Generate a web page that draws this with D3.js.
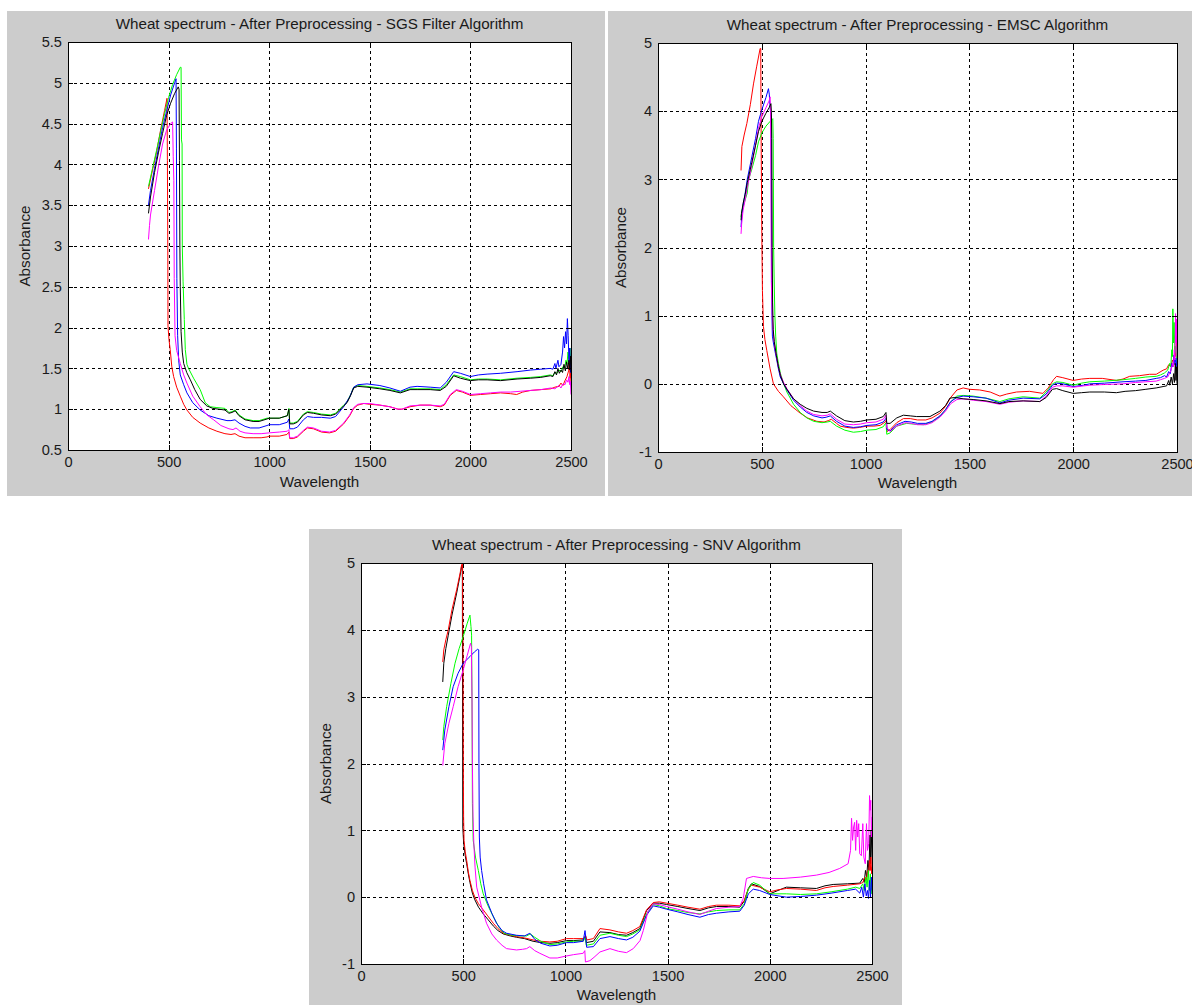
<!DOCTYPE html>
<html>
<head>
<meta charset="utf-8">
<script src="https://cdn.jsdelivr.net/npm/d3@7"></script>
<style>
  body { margin: 0; background: #fff; }
  svg { display: block; font-family: "Liberation Sans", Arial, sans-serif; }
</style>
</head>
<body>
<div id="chart"></div>
<script>
// Wavelength ticks shared by all three plots
const xTicks = [0, 500, 1000, 1500, 2000, 2500];
const sgsYTicks = [0.5, 1, 1.5, 2, 2.5, 3, 3.5, 4, 4.5, 5, 5.5];
const emscYTicks = [-1, 0, 1, 2, 3, 4, 5];
const snvYTicks = [-1, 0, 1, 2, 3, 4, 5];

// --- SGS filter spectra: [wavelength, absorbance] ---
const sgsRed = [[400,3.70],[420,3.93],[440,4.15],[460,4.42],[480,4.66],[492,4.81],[494,4.05],[496,3.0],[497,2.02],[502,1.85],[508,1.73],[516,1.52],[525,1.40],[540,1.27],[558,1.16],[575,1.06],[591,0.99],[620,0.90],[657,0.83],[700,0.77],[740,0.73],[780,0.70],[810,0.69],[830,0.70],[850,0.67],[880,0.65],[920,0.65],[960,0.65],[989,0.66],[1000,0.67],[1050,0.67],[1088,0.69],[1098,0.72],[1102,0.64],[1120,0.64],[1140,0.66],[1170,0.73],[1190,0.77],[1220,0.76],[1260,0.72],[1300,0.71],[1330,0.73],[1370,0.82],[1400,0.92],[1420,1.01],[1440,1.05],[1470,1.07],[1500,1.06],[1550,1.05],[1600,1.03],[1640,1.0],[1660,1.0],[1700,1.03],[1750,1.05],[1800,1.05],[1850,1.03],[1870,1.05],[1900,1.17],[1930,1.23],[1960,1.21],[2000,1.17],[2050,1.18],[2100,1.19],[2150,1.2],[2200,1.19],[2230,1.18],[2260,1.21],[2300,1.23],[2350,1.24],[2400,1.25],[2420,1.27],[2440,1.28],[2450,1.32],[2460,1.29],[2470,1.35],[2480,1.40],[2488,1.47],[2492,1.63],[2495,1.38],[2498,1.45],[2500,1.3]];
const sgsGreen = [[400,3.73],[420,3.95],[440,4.17],[460,4.4],[480,4.62],[500,4.82],[520,4.98],[540,5.1],[558,5.19],[562,5.19],[564,4.3],[567,4.25],[568,3.0],[572,2.56],[578,2.1],[583,1.73],[591,1.55],[599,1.50],[624,1.38],[657,1.24],[682,1.08],[707,1.03],[740,1.02],[780,1.01],[800,0.96],[815,0.97],[831,0.99],[850,0.93],[880,0.88],[920,0.86],[950,0.86],[989,0.89],[1000,0.89],[1050,0.89],[1090,0.92],[1098,1.01],[1102,0.83],[1120,0.83],[1140,0.85],[1170,0.94],[1190,0.97],[1220,0.96],[1260,0.94],[1304,0.93],[1330,0.95],[1370,1.05],[1387,1.09],[1405,1.18],[1420,1.27],[1440,1.29],[1486,1.28],[1550,1.26],[1600,1.24],[1652,1.21],[1700,1.25],[1735,1.25],[1800,1.25],[1850,1.24],[1880,1.3],[1917,1.42],[1950,1.40],[2000,1.36],[2040,1.37],[2083,1.37],[2150,1.36],[2232,1.38],[2300,1.39],[2350,1.40],[2397,1.42],[2410,1.41],[2420,1.45],[2430,1.44],[2440,1.48],[2450,1.46],[2460,1.52],[2468,1.5],[2475,1.6],[2480,1.55],[2485,1.7],[2490,1.62],[2495,1.75],[2500,1.55]];
const sgsBlue = [[400,3.50],[410,3.68],[430,3.95],[450,4.2],[470,4.45],[490,4.65],[510,4.85],[530,5.0],[537,5.05],[539,4.2],[541,2.6],[545,1.9],[550,1.6],[558,1.42],[575,1.3],[591,1.2],[620,1.08],[657,0.99],[700,0.92],[740,0.89],[790,0.86],[810,0.86],[830,0.87],[850,0.83],[880,0.79],[906,0.77],[950,0.77],[989,0.80],[1000,0.81],[1050,0.81],[1090,0.84],[1098,0.88],[1102,0.76],[1120,0.76],[1140,0.78],[1170,0.87],[1190,0.91],[1220,0.9],[1260,0.9],[1304,0.89],[1330,0.91],[1370,1.03],[1400,1.15],[1420,1.27],[1440,1.30],[1486,1.31],[1550,1.29],[1600,1.26],[1652,1.22],[1700,1.27],[1735,1.28],[1800,1.27],[1850,1.26],[1880,1.33],[1917,1.46],[1950,1.44],[2000,1.40],[2040,1.42],[2083,1.43],[2150,1.44],[2232,1.46],[2300,1.48],[2350,1.49],[2397,1.50],[2410,1.49],[2420,1.56],[2425,1.5],[2435,1.6],[2440,1.52],[2450,1.55],[2458,1.7],[2463,1.89],[2468,1.75],[2473,1.95],[2478,1.8],[2482,2.11],[2486,1.9],[2490,1.58],[2494,1.75],[2498,1.45],[2500,1.5]];
const sgsMagenta = [[400,3.08],[405,3.25],[410,3.38],[430,3.68],[450,3.98],[470,4.25],[490,4.42],[510,4.5],[520,4.52],[523,4.1],[526,3.8],[528,2.6],[532,1.9],[540,1.72],[558,1.56],[575,1.42],[591,1.32],[620,1.16],[657,1.03],[690,0.93],[724,0.87],[760,0.80],[800,0.76],[820,0.75],[835,0.77],[855,0.73],[880,0.71],[920,0.70],[960,0.70],[1000,0.71],[1050,0.72],[1090,0.73],[1098,0.75],[1102,0.65],[1120,0.65],[1140,0.67],[1170,0.74],[1190,0.78],[1220,0.77],[1260,0.73],[1300,0.72],[1330,0.74],[1370,0.83],[1400,0.93],[1420,1.02],[1440,1.06],[1470,1.07],[1500,1.07],[1550,1.05],[1600,1.03],[1640,1.0],[1660,1.0],[1700,1.04],[1750,1.05],[1800,1.05],[1850,1.04],[1870,1.06],[1900,1.18],[1930,1.24],[1960,1.22],[2000,1.18],[2050,1.19],[2100,1.2],[2150,1.21],[2200,1.21],[2250,1.22],[2300,1.23],[2350,1.24],[2400,1.26],[2420,1.25],[2440,1.29],[2450,1.26],[2460,1.31],[2470,1.3],[2478,1.36],[2485,1.33],[2490,1.4],[2494,1.3],[2497,1.34],[2500,1.18]];
const sgsBlack = [[400,3.40],[410,3.6],[430,3.9],[450,4.15],[470,4.38],[490,4.6],[510,4.75],[530,4.87],[548,4.95],[552,4.92],[554,4.05],[556,3.0],[558,2.5],[562,1.95],[568,1.7],[575,1.56],[590,1.45],[608,1.36],[630,1.24],[657,1.12],[690,1.04],[720,1.01],[780,0.99],[800,0.95],[815,0.96],[831,0.98],[850,0.92],[880,0.87],[920,0.85],[950,0.85],[989,0.88],[1000,0.89],[1050,0.89],[1090,0.92],[1098,1.0],[1102,0.82],[1120,0.82],[1140,0.84],[1170,0.93],[1190,0.96],[1220,0.95],[1260,0.93],[1304,0.92],[1330,0.94],[1370,1.04],[1387,1.08],[1405,1.17],[1420,1.26],[1440,1.28],[1486,1.27],[1550,1.25],[1600,1.23],[1652,1.20],[1700,1.24],[1735,1.24],[1800,1.24],[1850,1.23],[1880,1.28],[1917,1.41],[1950,1.38],[2000,1.35],[2040,1.36],[2083,1.36],[2150,1.35],[2232,1.37],[2300,1.38],[2350,1.39],[2397,1.41],[2410,1.40],[2420,1.46],[2428,1.42],[2435,1.5],[2442,1.44],[2450,1.48],[2458,1.45],[2465,1.55],[2472,1.47],[2478,1.58],[2484,1.5],[2490,1.6],[2494,1.48],[2498,1.65],[2500,1.45]];

// --- EMSC spectra ---
const emscRed = [[400,3.13],[404,3.48],[415,3.65],[428,3.82],[445,4.1],[460,4.40],[475,4.65],[492,4.92],[495,4.92],[497,3.5],[500,2.2],[503,1.37],[508,0.84],[515,0.65],[524,0.49],[540,0.22],[556,0.0],[580,-0.11],[604,-0.19],[640,-0.32],[685,-0.43],[720,-0.5],[765,-0.55],[800,-0.56],[820,-0.54],[835,-0.52],[860,-0.58],[877,-0.62],[910,-0.64],[941,-0.65],[970,-0.64],[1006,-0.62],[1040,-0.62],[1070,-0.61],[1094,-0.56],[1100,-0.53],[1103,-0.7],[1118,-0.67],[1150,-0.57],[1182,-0.51],[1215,-0.51],[1250,-0.53],[1290,-0.53],[1320,-0.5],[1358,-0.43],[1385,-0.33],[1410,-0.2],[1440,-0.09],[1470,-0.06],[1500,-0.08],[1550,-0.09],[1600,-0.12],[1647,-0.18],[1680,-0.15],[1727,-0.12],[1790,-0.11],[1854,-0.14],[1880,-0.06],[1905,0.06],[1920,0.11],[1950,0.09],[2000,0.05],[2040,0.07],[2080,0.08],[2140,0.08],[2208,0.05],[2240,0.07],[2272,0.11],[2320,0.12],[2368,0.14],[2400,0.14],[2433,0.2],[2450,0.22],[2460,0.28],[2470,0.25],[2478,0.35],[2485,0.3],[2490,0.55],[2494,0.4],[2498,0.7],[2500,0.5]];
const emscGreen = [[400,2.45],[405,2.55],[415,2.65],[430,2.8],[436,2.99],[452,3.15],[470,3.35],[484,3.55],[500,3.68],[520,3.78],[540,3.85],[553,3.89],[555,3.6],[557,2.0],[560,1.45],[563,1.0],[567,0.7],[572,0.45],[580,0.3],[590,0.15],[605,0.0],[621,-0.12],[653,-0.3],[685,-0.42],[717,-0.5],[750,-0.55],[790,-0.57],[815,-0.56],[830,-0.55],[860,-0.62],[900,-0.68],[941,-0.71],[975,-0.7],[1006,-0.68],[1050,-0.67],[1085,-0.63],[1098,-0.57],[1102,-0.74],[1118,-0.72],[1150,-0.62],[1198,-0.58],[1230,-0.59],[1278,-0.6],[1320,-0.56],[1358,-0.48],[1385,-0.38],[1406,-0.28],[1438,-0.18],[1470,-0.17],[1518,-0.18],[1580,-0.21],[1647,-0.26],[1690,-0.22],[1759,-0.19],[1839,-0.21],[1870,-0.12],[1900,0.0],[1920,0.03],[1950,0.02],[2000,-0.02],[2040,0.01],[2080,0.03],[2150,0.04],[2240,0.06],[2300,0.08],[2350,0.1],[2400,0.11],[2420,0.13],[2440,0.16],[2455,0.2],[2465,0.3],[2470,0.25],[2475,0.5],[2478,0.4],[2480,1.1],[2483,0.6],[2486,0.9],[2490,0.45],[2495,0.55],[2500,0.3]];
const emscBlue = [[400,2.30],[403,2.45],[410,2.62],[420,2.8],[430,3.0],[452,3.33],[470,3.6],[484,3.85],[500,4.02],[520,4.2],[532,4.33],[536,4.25],[540,4.05],[545,3.9],[547,2.0],[549,1.0],[551,0.7],[556,0.6],[564,0.47],[572,0.35],[580,0.22],[589,0.1],[605,0.0],[621,-0.09],[653,-0.24],[685,-0.34],[717,-0.42],[750,-0.47],[790,-0.5],[810,-0.49],[830,-0.47],[860,-0.55],[900,-0.62],[941,-0.64],[975,-0.63],[1006,-0.61],[1050,-0.6],[1085,-0.56],[1100,-0.50],[1103,-0.67],[1118,-0.69],[1150,-0.6],[1190,-0.55],[1220,-0.56],[1250,-0.58],[1290,-0.58],[1320,-0.55],[1358,-0.47],[1385,-0.38],[1410,-0.26],[1440,-0.2],[1470,-0.18],[1518,-0.19],[1580,-0.21],[1647,-0.28],[1690,-0.24],[1759,-0.21],[1839,-0.22],[1870,-0.15],[1900,-0.02],[1920,0.01],[1950,0.0],[2000,-0.04],[2050,-0.02],[2080,0.0],[2150,0.01],[2240,0.03],[2300,0.04],[2350,0.05],[2400,0.08],[2420,0.09],[2440,0.12],[2450,0.1],[2460,0.18],[2468,0.15],[2475,0.3],[2480,0.25],[2485,0.42],[2490,0.28],[2495,0.38],[2500,0.2]];
const emscMagenta = [[400,2.20],[403,2.35],[410,2.55],[420,2.7],[430,2.88],[452,3.2],[470,3.5],[484,3.75],[500,3.92],[520,4.05],[535,4.15],[540,4.21],[542,4.0],[544,3.0],[546,1.5],[550,1.0],[556,0.72],[564,0.52],[572,0.38],[580,0.25],[590,0.13],[605,0.02],[621,-0.07],[653,-0.22],[685,-0.32],[717,-0.40],[750,-0.45],[790,-0.47],[815,-0.46],[830,-0.44],[860,-0.52],[900,-0.59],[941,-0.6],[975,-0.59],[1006,-0.57],[1050,-0.56],[1085,-0.52],[1098,-0.46],[1102,-0.64],[1118,-0.7],[1150,-0.62],[1190,-0.57],[1220,-0.58],[1250,-0.6],[1290,-0.6],[1320,-0.57],[1358,-0.49],[1385,-0.4],[1410,-0.29],[1440,-0.23],[1470,-0.22],[1518,-0.24],[1580,-0.26],[1647,-0.3],[1690,-0.27],[1759,-0.25],[1839,-0.26],[1870,-0.18],[1900,-0.05],[1920,-0.03],[1950,-0.03],[2000,-0.05],[2050,-0.03],[2080,-0.02],[2150,-0.01],[2240,0.0],[2300,0.02],[2350,0.03],[2400,0.04],[2420,0.06],[2440,0.08],[2455,0.1],[2465,0.16],[2472,0.2],[2478,0.3],[2483,0.25],[2487,0.5],[2490,0.35],[2493,1.03],[2495,0.6],[2497,0.95],[2500,0.4]];
const emscBlack = [[400,2.40],[402,2.5],[410,2.65],[420,2.78],[430,2.95],[452,3.25],[470,3.5],[484,3.7],[500,3.85],[520,3.97],[535,4.05],[544,4.11],[546,4.0],[548,3.6],[550,2.0],[552,1.2],[555,0.8],[560,0.62],[570,0.42],[580,0.25],[590,0.12],[605,0.0],[621,-0.08],[653,-0.22],[685,-0.3],[717,-0.36],[750,-0.40],[790,-0.42],[815,-0.42],[830,-0.40],[860,-0.47],[900,-0.54],[941,-0.56],[975,-0.55],[1006,-0.53],[1050,-0.52],[1085,-0.48],[1098,-0.42],[1102,-0.58],[1118,-0.58],[1150,-0.5],[1182,-0.46],[1215,-0.47],[1246,-0.48],[1310,-0.48],[1358,-0.40],[1385,-0.32],[1406,-0.21],[1430,-0.2],[1470,-0.22],[1518,-0.23],[1580,-0.25],[1647,-0.29],[1690,-0.26],[1759,-0.25],[1839,-0.26],[1870,-0.2],[1900,-0.08],[1920,-0.07],[1950,-0.1],[2000,-0.14],[2040,-0.13],[2080,-0.12],[2150,-0.12],[2208,-0.13],[2250,-0.11],[2300,-0.1],[2350,-0.08],[2400,-0.06],[2433,-0.04],[2450,-0.03],[2460,0.05],[2465,-0.02],[2472,0.1],[2478,0.0],[2484,0.15],[2488,0.02],[2492,0.3],[2495,0.05],[2498,0.25],[2500,0.0]];

// --- SNV spectra ---
const snvRed = [[400,3.52],[405,3.7],[415,3.85],[427,4.0],[445,4.3],[468,4.6],[485,4.85],[492,4.97],[497,5.0],[498,4.0],[499,3.9],[500,2.5],[501,1.75],[502,1.2],[504,0.85],[510,0.68],[517,0.55],[525,0.38],[533,0.25],[545,0.1],[557,0.0],[575,-0.1],[598,-0.19],[620,-0.28],[647,-0.39],[670,-0.47],[696,-0.54],[730,-0.57],[761,-0.59],[800,-0.61],[842,-0.64],[880,-0.66],[924,-0.67],[960,-0.66],[1005,-0.62],[1040,-0.62],[1087,-0.62],[1100,-0.58],[1105,-0.64],[1137,-0.62],[1169,-0.47],[1218,-0.49],[1260,-0.52],[1299,-0.54],[1330,-0.5],[1364,-0.44],[1397,-0.19],[1430,-0.08],[1460,-0.07],[1495,-0.09],[1550,-0.12],[1600,-0.15],[1658,-0.18],[1700,-0.14],[1739,-0.12],[1800,-0.12],[1853,-0.13],[1875,-0.05],[1895,0.12],[1910,0.18],[1950,0.15],[2000,0.08],[2040,0.11],[2081,0.13],[2150,0.12],[2228,0.10],[2270,0.14],[2310,0.16],[2380,0.18],[2440,0.2],[2455,0.22],[2465,0.3],[2472,0.25],[2478,0.4],[2483,0.35],[2488,0.55],[2492,0.4],[2495,0.6],[2498,0.35],[2500,0.45]];
const snvGreen = [[400,2.35],[405,2.55],[419,2.85],[440,3.2],[460,3.5],[480,3.72],[500,3.9],[520,4.1],[533,4.22],[538,4.05],[541,3.92],[543,3.0],[545,1.4],[549,0.85],[560,0.6],[574,0.4],[586,0.2],[598,0.05],[620,-0.12],[647,-0.29],[675,-0.45],[700,-0.54],[740,-0.57],[780,-0.58],[810,-0.58],[828,-0.55],[850,-0.6],[880,-0.66],[924,-0.71],[960,-0.7],[1005,-0.67],[1040,-0.66],[1087,-0.66],[1098,-0.6],[1102,-0.72],[1137,-0.7],[1169,-0.57],[1218,-0.54],[1260,-0.57],[1299,-0.59],[1330,-0.55],[1364,-0.49],[1397,-0.25],[1430,-0.11],[1460,-0.13],[1495,-0.17],[1550,-0.2],[1600,-0.23],[1658,-0.25],[1700,-0.22],[1739,-0.2],[1800,-0.19],[1853,-0.19],[1875,-0.1],[1895,0.12],[1919,0.22],[1950,0.18],[2000,0.05],[2040,0.05],[2081,0.05],[2150,0.04],[2228,0.05],[2300,0.08],[2380,0.12],[2420,0.15],[2440,0.13],[2455,0.2],[2462,0.1],[2470,0.3],[2476,0.15],[2482,0.4],[2487,0.1],[2492,0.35],[2496,0.05],[2500,0.25]];
const snvBlue = [[400,2.20],[410,2.5],[430,2.85],[451,3.15],[475,3.35],[500,3.5],[533,3.6],[555,3.67],[571,3.71],[576,3.7],[577,2.0],[579,0.9],[583,0.6],[590,0.4],[600,0.2],[614,-0.04],[640,-0.24],[663,-0.39],[690,-0.5],[712,-0.54],[760,-0.57],[800,-0.58],[826,-0.54],[850,-0.63],[880,-0.69],[924,-0.73],[960,-0.72],[1005,-0.68],[1040,-0.68],[1087,-0.66],[1096,-0.5],[1100,-0.62],[1104,-0.75],[1137,-0.74],[1169,-0.62],[1218,-0.59],[1260,-0.62],[1299,-0.64],[1330,-0.6],[1364,-0.51],[1397,-0.27],[1430,-0.13],[1460,-0.15],[1495,-0.18],[1550,-0.22],[1600,-0.26],[1658,-0.30],[1700,-0.26],[1739,-0.24],[1800,-0.22],[1853,-0.21],[1875,-0.12],[1895,0.05],[1919,0.12],[1950,0.1],[2000,0.04],[2040,0.02],[2081,0.0],[2150,0.01],[2228,0.03],[2300,0.06],[2380,0.1],[2420,0.12],[2440,0.06],[2450,0.15],[2458,0.0],[2465,0.2],[2472,0.02],[2478,0.1],[2483,-0.02],[2488,0.25],[2493,0.0],[2497,0.3],[2500,0.1]];
const snvMagenta = [[400,1.97],[410,2.3],[430,2.6],[451,2.85],[475,3.15],[500,3.4],[520,3.62],[536,3.8],[540,3.75],[543,3.0],[545,2.0],[548,1.2],[552,0.8],[558,0.45],[566,0.15],[578,0.0],[590,-0.15],[614,-0.39],[640,-0.55],[663,-0.64],[690,-0.72],[712,-0.77],[761,-0.79],[790,-0.78],[810,-0.77],[826,-0.74],[850,-0.8],[875,-0.84],[924,-0.91],[960,-0.91],[1005,-0.88],[1040,-0.86],[1087,-0.84],[1095,-0.8],[1098,-0.97],[1120,-0.95],[1140,-0.9],[1169,-0.82],[1218,-0.77],[1260,-0.81],[1299,-0.83],[1332,-0.77],[1365,-0.65],[1381,-0.5],[1405,-0.2],[1430,-0.1],[1460,-0.11],[1495,-0.14],[1550,-0.18],[1600,-0.22],[1658,-0.26],[1700,-0.21],[1739,-0.17],[1800,-0.15],[1853,-0.14],[1870,-0.02],[1886,0.28],[1919,0.31],[1960,0.29],[2000,0.28],[2065,0.28],[2150,0.3],[2228,0.33],[2290,0.37],[2342,0.43],[2383,0.5],[2395,0.7],[2400,1.18],[2405,0.85],[2410,1.05],[2415,1.12],[2420,0.7],[2425,1.15],[2430,0.9],[2435,1.1],[2440,0.65],[2448,0.62],[2455,1.1],[2460,0.6],[2467,0.5],[2473,1.1],[2478,0.7],[2484,0.8],[2488,1.52],[2491,1.3],[2494,1.45],[2497,0.9],[2500,1.2]];
const snvBlack = [[400,3.22],[405,3.5],[415,3.72],[427,3.92],[445,4.22],[468,4.55],[485,4.82],[492,4.95],[495,4.97],[496,4.75],[497,2.5],[498,1.05],[502,0.82],[510,0.62],[517,0.5],[525,0.35],[533,0.22],[545,0.06],[557,-0.04],[575,-0.15],[598,-0.25],[620,-0.33],[647,-0.43],[670,-0.5],[696,-0.55],[730,-0.58],[761,-0.60],[800,-0.62],[842,-0.66],[880,-0.68],[924,-0.69],[960,-0.68],[1005,-0.65],[1040,-0.65],[1087,-0.64],[1098,-0.58],[1102,-0.68],[1137,-0.66],[1169,-0.52],[1218,-0.53],[1260,-0.56],[1299,-0.57],[1330,-0.53],[1364,-0.47],[1397,-0.2],[1430,-0.09],[1460,-0.09],[1495,-0.11],[1550,-0.14],[1600,-0.17],[1658,-0.2],[1700,-0.16],[1739,-0.14],[1800,-0.14],[1853,-0.15],[1875,-0.06],[1895,0.13],[1910,0.2],[1950,0.16],[2000,0.05],[2040,0.1],[2081,0.15],[2150,0.14],[2228,0.13],[2270,0.17],[2310,0.19],[2380,0.2],[2440,0.21],[2455,0.28],[2462,0.22],[2468,0.4],[2474,0.3],[2480,0.55],[2485,0.4],[2490,0.93],[2493,0.5],[2496,1.0],[2500,0.6]];

const panels = [
  {
    title: 'Wheat spectrum - After Preprocessing - SGS Filter Algorithm',
    frame: [7, 11, 605, 496], plot: [68, 42, 571, 450],
    yDomain: [0.5, 5.5], yTicks: sgsYTicks,
    titleY: 29, xlabelY: 487, ylabelX: 30,
    series: [['#ff0000', sgsRed], ['#00ff00', sgsGreen], ['#0000ff', sgsBlue], ['#ff00ff', sgsMagenta], ['#000000', sgsBlack]]
  },
  {
    title: 'Wheat spectrum - After Preprocessing - EMSC Algorithm',
    frame: [608, 11, 1192, 496], plot: [658, 43, 1177, 452],
    yDomain: [-1, 5], yTicks: emscYTicks,
    titleY: 30, xlabelY: 488, ylabelX: 626,
    series: [['#ff0000', emscRed], ['#00ff00', emscGreen], ['#0000ff', emscBlue], ['#ff00ff', emscMagenta], ['#000000', emscBlack]]
  },
  {
    title: 'Wheat spectrum - After Preprocessing - SNV Algorithm',
    frame: [309, 529, 902, 1005], plot: [361, 563, 872, 964],
    yDomain: [-1, 5], yTicks: snvYTicks,
    titleY: 550, xlabelY: 1000, ylabelX: 331,
    series: [['#000000', snvBlack], ['#ff0000', snvRed], ['#00ff00', snvGreen], ['#0000ff', snvBlue], ['#ff00ff', snvMagenta]]
  }
];

const svg = d3.select('#chart').append('svg')
  .attr('width', 1192)
  .attr('height', 1005);

svg.append('rect').attr('width', 1192).attr('height', 1005).attr('fill', '#fff');

panels.forEach((p, i) => renderPanel(svg, p, i));

function renderPanel(svg, p, idx) {
  const [fx0, fy0, fx1, fy1] = p.frame;
  const [left, top, right, bottom] = p.plot;
  const width = right - left;
  const height = bottom - top;

  // figure background
  svg.append('rect')
    .attr('x', fx0).attr('y', fy0)
    .attr('width', fx1 - fx0).attr('height', fy1 - fy0)
    .attr('fill', '#cccccc');

  const g = svg.append('g').attr('transform', `translate(${left},${top})`);
  g.append('rect').attr('width', width).attr('height', height).attr('fill', '#fff');

  const x = d3.scaleLinear().domain([0, 2500]).range([0, width]);
  const y = d3.scaleLinear().domain(p.yDomain).range([height, 0]);

  // dashed grid
  const gridY = g.append('g')
    .call(d3.axisLeft(y).tickValues(p.yTicks).tickSize(-width).tickFormat(''));
  const gridX = g.append('g')
    .attr('transform', `translate(0,${height})`)
    .call(d3.axisBottom(x).tickValues(xTicks).tickSize(-height).tickFormat(''));
  [gridX, gridY].forEach(gr => {
    gr.select('.domain').remove();
    gr.selectAll('.tick line')
      .attr('stroke', '#000')
      .attr('stroke-dasharray', '3,3')
      .attr('shape-rendering', 'crispEdges');
  });

  // spectra
  const clipId = 'clip' + idx;
  g.append('clipPath').attr('id', clipId)
    .append('rect').attr('width', width).attr('height', height);

  const line = d3.line()
    .x(d => x(d[0]))
    .y(d => y(d[1]));

  g.append('g').attr('clip-path', `url(#${clipId})`)
    .selectAll('path')
    .data(p.series)
    .enter()
    .append('path')
    .attr('d', d => line(d[1]))
    .attr('fill', 'none')
    .attr('stroke', d => d[0])
    .attr('stroke-width', 1);

  // axes with inward ticks
  const fmt = d => String(d);
  const axes = [
    g.append('g').call(d3.axisLeft(y).tickValues(p.yTicks).tickSizeInner(-5).tickSizeOuter(0).tickPadding(6).tickFormat(fmt)),
    g.append('g').attr('transform', `translate(0,${height})`)
      .call(d3.axisBottom(x).tickValues(xTicks).tickSizeInner(-5).tickSizeOuter(0).tickPadding(7).tickFormat(fmt)),
    g.append('g').attr('transform', `translate(${width},0)`)
      .call(d3.axisRight(y).tickValues(p.yTicks).tickSizeInner(-5).tickSizeOuter(0).tickFormat('')),
    g.append('g').call(d3.axisTop(x).tickValues(xTicks).tickSizeInner(-5).tickSizeOuter(0).tickFormat(''))
  ];
  axes.forEach(a => {
    a.select('.domain').remove();
    a.selectAll('.tick line').attr('stroke', '#000').attr('shape-rendering', 'crispEdges');
    a.selectAll('.tick text')
      .attr('fill', '#1a1a1a')
      .style('font-size', '14.6px')
      .style('font-family', '"Liberation Sans", Arial, sans-serif');
  });

  // box
  g.append('rect')
    .attr('width', width).attr('height', height)
    .attr('fill', 'none')
    .attr('stroke', '#000')
    .attr('shape-rendering', 'crispEdges');

  // labels
  const cx = left + width / 2;
  svg.append('text')
    .attr('x', cx).attr('y', p.titleY)
    .attr('text-anchor', 'middle')
    .attr('fill', '#1a1a1a')
    .style('font-size', '15.2px')
    .text(p.title);

  svg.append('text')
    .attr('x', cx).attr('y', p.xlabelY)
    .attr('text-anchor', 'middle')
    .attr('fill', '#1a1a1a')
    .style('font-size', '15.2px')
    .text('Wavelength');

  svg.append('text')
    .attr('transform', `translate(${p.ylabelX},${top + height / 2}) rotate(-90)`)
    .attr('text-anchor', 'middle')
    .attr('fill', '#1a1a1a')
    .style('font-size', '15.2px')
    .text('Absorbance');
}
</script>
</body>
</html>
